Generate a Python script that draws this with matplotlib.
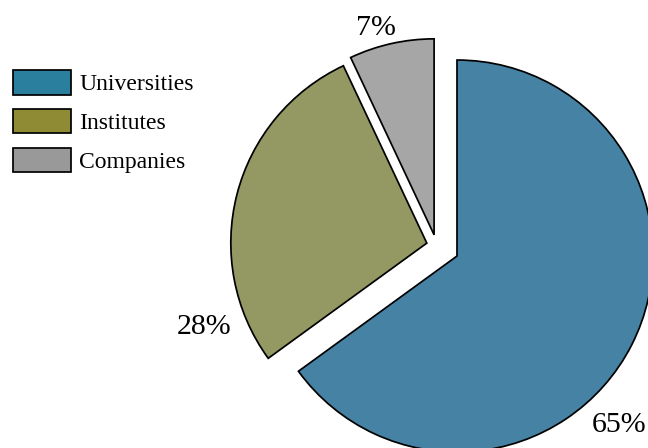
import matplotlib.pyplot as plt
from matplotlib.patches import Patch

categories = ['Universities', 'Institutes', 'Companies']
shares = [65, 28, 7]

pie_colors = ['#4682a4', '#949862', '#a6a6a6']
legend_colors = ['#2a7f9e', '#8f8a34', '#999999']
# wedge offsets, in the same units as the radius
explode = [23, 10, 11]

plt.rcParams['font.family'] = ['Liberation Serif', 'DejaVu Serif']

fig = plt.figure(figsize=(6.48, 4.48), dpi=100)
ax = fig.add_axes([0, 0, 1, 1])

ax.pie(shares, colors=pie_colors, explode=explode, startangle=90,
       counterclock=False, radius=196, center=(436.5, 202.4),
       wedgeprops=dict(edgecolor='black', linewidth=1.25))
ax.set_xlim(0, 648)
ax.set_ylim(0, 448)
ax.set_aspect('equal')
ax.axis('off')

# percentage labels sit off the wedges
label_pos = [(619, 16), (204.5, 114), (376, 413)]
for v, (x, y) in zip(shares, label_pos):
    ax.text(x, y, f'{v}%', fontsize=21.5, ha='center', va='baseline')

handles = [Patch(facecolor=c, edgecolor='black', linewidth=1.25) for c in legend_colors]
ax.legend(handles, categories, loc='upper left', bbox_to_anchor=(0.020, 0.843),
          frameon=False, fontsize=17, handlelength=2.45, handleheight=1.2,
          handletextpad=0.35, labelspacing=0.58, borderaxespad=0, borderpad=0)

fig.savefig('out.png', dpi=100)
